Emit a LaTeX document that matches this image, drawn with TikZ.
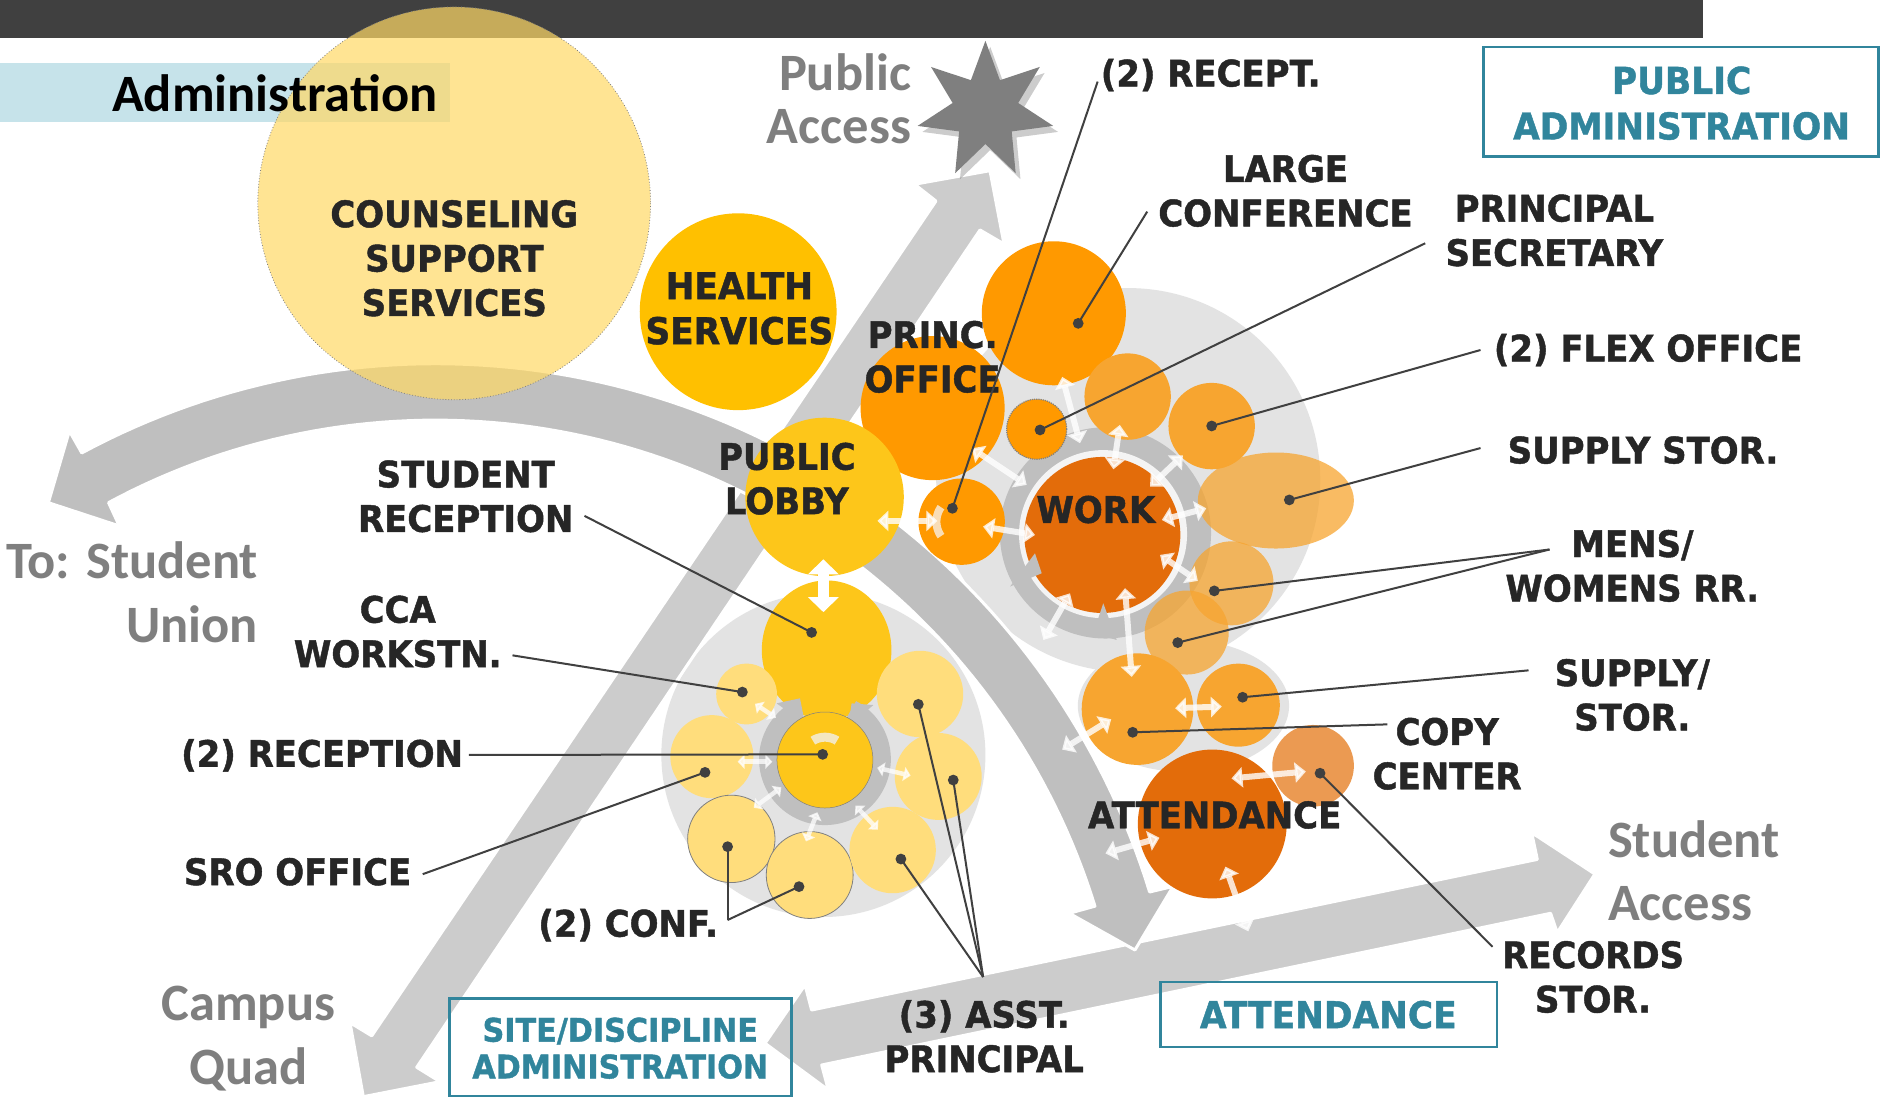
\documentclass[tikz,border=0pt]{standalone}
\usepackage{fontspec}
\newfontfamily\labfont{DejaVu Sans}[FakeStretch=0.93, BoldFeatures={FakeBold=1.2}]
\newfontfamily\calfont{Carlito}
\usetikzlibrary{arrows.meta}
\definecolor{barcol}{HTML}{404040}
\definecolor{band}{HTML}{C6E3EA}
\definecolor{halo}{HTML}{E3E3E3}
\definecolor{arrowlight}{HTML}{CCCCCC}
\definecolor{arrowdark}{HTML}{BFBFBF}
\definecolor{ringgrey}{HTML}{BFBFBF}
\definecolor{orangeA}{HTML}{FF9900}
\definecolor{orangeB}{HTML}{F7A530}
\definecolor{orangeD}{HTML}{E36C0A}
\definecolor{orangeE}{HTML}{EB9A52}
\definecolor{yellowA}{HTML}{FFC000}
\definecolor{yellowB}{HTML}{FDC61A}
\definecolor{yellowC}{HTML}{FFDD7C}
\definecolor{counsel}{HTML}{FFD966}
\definecolor{tealc}{HTML}{31859C}
\definecolor{greytext}{HTML}{7F7F7F}
\definecolor{labtext}{HTML}{262626}
\definecolor{leadc}{HTML}{404040}
\definecolor{palepeach}{HTML}{F9DDB6}
\definecolor{paleyellow}{HTML}{F4E7C0}
\tikzset{
  lbl/.style={font=\labfont\bfseries\fontsize{36.5}{44.4}\selectfont, text=labtext, inner sep=0pt, align=center},
  greylbl/.style={font=\calfont\bfseries\fontsize{52.5}{63.6}\selectfont, text=greytext, inner sep=0pt},
  tealtxt/.style={font=\labfont\bfseries\fontsize{37}{45.6}\selectfont, text=tealc, inner sep=0pt, align=center},
  tealbox/.style={draw=tealc, line width=2.4pt},
  leader/.style={draw=leadc, line width=2pt},
  dotc/.style={fill=leadc},
  wdbl/.style={draw=white, fill=white, opacity=0.8, line width=6pt, {Triangle[width=20pt,length=11pt]}-{Triangle[width=20pt,length=11pt]}},
  wsmall/.style={draw=white, fill=white, opacity=0.75, line width=4.5pt, {Triangle[width=14pt,length=7pt]}-{Triangle[width=14pt,length=7pt]}},
  bigarrow/.style={draw=white, line width=3pt, line join=round},
}
\begin{document}
\begin{tikzpicture}[x=1.2003pt,y=-1.2003pt]
\useasboundingbox (0,0) rectangle (1568,914);
\fill[white] (0,0) rectangle (1568,914);
% top bar and band
\fill[barcol] (0,0) rectangle (1418.5,31.4);
\fill[band] (0,52.8) rectangle (374.6,101.4);
% halos
\fill[halo] (940,400) circle[radius=160];
\fill[halo] (986,588) ellipse[x radius=88, y radius=55];
\fill[halo] (686,629) circle[radius=135];
% big grey arrows
\filldraw[fill=arrowlight, bigarrow] (824.8,142.2) -- (836.5,203.3) -- (816.5,191.6) -- (347.2,889.2) -- (366.6,901.2) -- (302.7,913.7) -- (291.6,852) -- (309.7,863) -- (779.8,167.5) -- (762,153.5) -- cycle;
\filldraw[fill=arrowlight, bigarrow] (1328.8,728.2) -- (1276.1,693.7) -- (1280.8,716) -- (676.2,841.5) -- (670.7,820.6) -- (637.4,869.2) -- (690.1,908.1) -- (684.6,887.3) -- (1291.9,760.9) -- (1297.4,777) -- cycle;
\filldraw[fill=arrowdark, bigarrow] plot[domain=118.3:17.0, samples=90] ({363+622*cos(\x)},{925-622*sin(\x)}) -- (977.4,738.5) -- (945.6,791.5) -- (890.9,760.9) -- plot[domain=17.2:118.3, samples=90] ({363+575*cos(\x)},{925-575*sin(\x)}) -- (99.4,438.2) -- (40.3,418.8) -- (57.8,359.1) -- cycle;
% work ring
\fill[ringgrey] (921,444) circle[radius=88];
\fill[white!60!halo] (919,445) circle[radius=70];
% orange cluster
\fill[orangeA] (878,261) circle[radius=60];
\fill[orangeA] (777,340) circle[radius=60];
\fill[orangeB] (939.5,330.4) circle[radius=36];
\fill[orangeB] (1009.5,355) circle[radius=36];
\filldraw[fill=orangeA, draw=gray, densely dotted, line width=1.2pt] (863.7,357.6) circle[radius=25];
\fill[orangeA] (801.2,434.6) circle[radius=36];
\fill[orangeB, opacity=0.75] (1063,417) ellipse[x radius=65, y radius=40];
\fill[orangeB, opacity=0.75] (1026,486) circle[radius=35];
\fill[orangeB, opacity=0.75] (988.7,527) circle[radius=35];
\fill[orangeB] (947.7,590.8) circle[radius=46.5];
\fill[orangeB] (1031.7,587.5) circle[radius=34.6];
\fill[orangeE] (1094,638) circle[radius=34];
\fill[orangeD] (1010,686.5) circle[radius=62];
\fill[orangeD] (918.4,445.7) circle[radius=65];
\fill[ringgrey] (841.5,488.7) -- (867.9,477.6) -- (862.3,461) -- cycle;
\fill[ringgrey] (910.9,527.6) -- (919.2,502.6) -- (930.4,533.2) -- cycle;
\draw[line width=8pt, palepeach] plot[domain=145:215, samples=30] ({801.2+21*cos(\x)},{434.6-21*sin(\x)});
% yellow cluster
\fill[yellowB] (688.7,541.6) ellipse[x radius=54, y radius=58];
\draw[ringgrey, line width=19pt] plot[domain=118:422, samples=90] ({687.3+47*cos(\x)},{632.5-47*sin(\x)});
\fill[ringgrey] (647,586) -- (666.5,581.8) -- (670.7,602.7) -- cycle;
\fill[ringgrey] (706.8,605.5) -- (709.5,586) -- (727.6,587.4) -- cycle;
\fill[yellowC] (622,578.2) circle[radius=25.3];
\fill[yellowC] (593.1,630.4) circle[radius=34.6];
\filldraw[fill=yellowC, draw=gray, line width=0.8pt] (609.3,698.9) circle[radius=36.4];
\filldraw[fill=yellowC, draw=gray, line width=0.8pt] (674.6,729) circle[radius=36.2];
\fill[yellowC] (743.7,708.2) circle[radius=36];
\fill[yellowC] (766.5,578.2) circle[radius=36];
\fill[yellowC] (781.7,646.9) circle[radius=36.2];
\filldraw[fill=yellowB, draw=gray, line width=0.5pt] (687.3,633.2) circle[radius=40];
\draw[line width=9pt, paleyellow] plot[domain=58:122, samples=30] ({687.3+19*cos(\x)},{633.2-19*sin(\x)});
\fill[yellowB] (687,414) circle[radius=66];
\fill[yellowA] (615,259.7) circle[radius=82];
% counseling
\filldraw[fill=counsel, fill opacity=0.7, draw=gray, dotted, line width=0.8pt] (378.4,169.4) circle[radius=163.6];
% star
\begin{scope}[shift={(4,5)}]
\fill[black, opacity=0.2] (821,34) -- (808.9,66.8) -- (775.7,55.8) -- (793.7,85.8) -- (764.5,104.9) -- (799.1,109.5) -- (795.8,144.3) -- (821,120) -- (846.2,144.3) -- (842.9,109.5) -- (877.5,104.9) -- (848.3,85.8) -- (866.3,55.8) -- (833.1,66.8) -- cycle;
\end{scope}
\fill[greytext] (821,34) -- (808.9,66.8) -- (775.7,55.8) -- (793.7,85.8) -- (764.5,104.9) -- (799.1,109.5) -- (795.8,144.3) -- (821,120) -- (846.2,144.3) -- (842.9,109.5) -- (877.5,104.9) -- (848.3,85.8) -- (866.3,55.8) -- (833.1,66.8) -- cycle;
% white double arrows
\coordinate (w1a) at (686,466); \coordinate (w1b) at (686,510);
\draw[draw=white, fill=white, line width=11pt, {Triangle[width=30pt,length=15pt]}-{Triangle[width=30pt,length=15pt]}] (w1a) -- (w1b);
\coordinate (w2a) at (731,434); \coordinate (w2b) at (781,434);
\coordinate (w3a) at (809.6,373.5); \coordinate (w3b) at (855.4,404);
\coordinate (w4a) at (885,314); \coordinate (w4b) at (899.8,369.3);
\coordinate (w5a) at (819,438.7); \coordinate (w5b) at (862.3,445.7);
\coordinate (w6a) at (933,354); \coordinate (w6b) at (927.6,391);
\coordinate (w7a) at (958.1,405.4); \coordinate (w7b) at (985.5,379.4);
\coordinate (w8a) at (968,433.2); \coordinate (w8b) at (1005,423.5);
\coordinate (w9a) at (966.5,462.3); \coordinate (w9b) at (998,484);
\coordinate (w10a) at (891.5,494.3); \coordinate (w10b) at (869.3,533.2);
\coordinate (w11a) at (937.3,490); \coordinate (w11b) at (942.9,564);
\coordinate (w12a) at (925.8,599.2); \coordinate (w12b) at (884.9,624.5);
\coordinate (w13a) at (979,590); \coordinate (w13b) at (1018,588.7);
\coordinate (w14a) at (1026,648.5); \coordinate (w14b) at (1088,642.8);
\coordinate (w15a) at (921,711); \coordinate (w15b) at (966,698);
\coordinate (w16a) at (1021,722); \coordinate (w16b) at (1040,776);
\foreach \w in {w2,w3,w4,w5,w6,w7,w8,w9,w10,w11,w12,w13,w14,w15,w16}{
  \draw[wdbl] (\w a) -- (\w b);
}
\coordinate (y1a) at (629,586.4); \coordinate (y1b) at (646.5,598);
\coordinate (y2a) at (614.5,634.6); \coordinate (y2b) at (643.5,634.6);
\coordinate (y3a) at (628,673); \coordinate (y3b) at (651,656);
\coordinate (y4a) at (671.5,701); \coordinate (y4b) at (681,676.7);
\coordinate (y5a) at (731.4,691.2); \coordinate (y5b) at (712.7,671.1);
\coordinate (y6a) at (758.7,646.2); \coordinate (y6b) at (730.8,639.7);
\foreach \w in {y1,y2,y3,y4,y5,y6}{
  \draw[wsmall] (\w a) -- (\w b);
}
% labels
\node[font=\calfont\bfseries\fontsize{52.5}{60}\selectfont, text=black, inner sep=0pt, anchor=east] (admin) at (364.6,78) {Administration};
\node[lbl] (counseltxt) at (378.5,215.2) {COUNSELING\\SUPPORT\\SERVICES};
\node[lbl, font=\labfont\bfseries\fontsize{37}{45}\selectfont] (healthtxt) at (616,257) {HEALTH\\SERVICES};
\node[greylbl, font=\calfont\bfseries\fontsize{52.5}{52.8}\selectfont, align=right, anchor=east] (pubacc) at (759.2,82) {Public\\Access};
\node[lbl, anchor=west] (recepttxt) at (917,62.5) {(2) RECEPT.};
\node[lbl] (largeconf) at (1071,159) {LARGE\\CONFERENCE};
\node[lbl] (secretary) at (1295,192) {PRINCIPAL\\SECRETARY};
\node[tealtxt] (pubadmin) at (1401,86) {PUBLIC\\ADMINISTRATION};
\draw[tealbox] (1236,39) rectangle (1565,130.5);
\node[lbl] (princtxt) at (777,297.3) {PRINC.\\OFFICE};
\node[lbl, anchor=west] (flextxt) at (1244.5,291.6) {(2) FLEX OFFICE};
\node[lbl, anchor=west] (supplytxt) at (1256,375) {SUPPLY STOR.};
\node[lbl] (lobbytxt) at (655.6,398.8) {PUBLIC\\LOBBY};
\node[lbl] (worktxt) at (913,424.5) {WORK};
\node[lbl] (studrec) at (388,413.5) {STUDENT\\RECEPTION};
\node[lbl] (menstxt) at (1360,471.5) {MENS/\\WOMENS RR.};
\node[greylbl, align=right, anchor=east] (union) at (215,493.4) {To: Student\\Union};
\node[lbl] (ccatxt) at (331.4,526.2) {CCA\\WORKSTN.};
\node[lbl] (supstortxt) at (1360,579) {SUPPLY/\\STOR.};
\node[lbl] (copytxt) at (1205.7,628) {COPY\\CENTER};
\node[lbl, anchor=west] (rectxt) at (150.8,629.3) {(2) RECEPTION};
\node[lbl] (atttxt) at (1012,679) {ATTENDANCE};
\node[lbl] (srotxt) at (248,726.3) {SRO OFFICE};
\node[greylbl, align=left, anchor=west] (studacc) at (1339.6,725.5) {Student\\Access};
\node[lbl, anchor=east] (conftxt) at (598.4,770.8) {(2) CONF.};
\node[lbl] (recordstxt) at (1327.3,814) {RECORDS\\STOR.};
\node[greylbl, align=center] (campus) at (207,865.5) {Campus\\Quad};
\node[tealtxt, font=\labfont\bfseries\fontsize{32.5}{36.7}\selectfont] (sitetxt) at (516.8,873.3) {SITE/DISCIPLINE\\ADMINISTRATION};
\draw[tealbox] (374.6,832) rectangle (659.3,912.9);
\node[lbl] (assttxt) at (820,863.4) {(3) ASST.\\PRINCIPAL};
\node[tealtxt] (attbox) at (1106.7,845.4) {ATTENDANCE};
\draw[tealbox] (966.8,818.3) rectangle (1247,872.3);
% leader lines
\coordinate (s1) at (914.5,68);     \coordinate (d1) at (793.5,423.5);
\coordinate (s2) at (955.8,176.3);  \coordinate (d2) at (898.3,269.4);
\coordinate (s3) at (1187.4,202.7); \coordinate (d3) at (866.5,358.2);
\coordinate (s4) at (1233.5,291.6); \coordinate (d4) at (1009.5,354.9);
\coordinate (s5) at (1233.5,373.3); \coordinate (d5) at (1074.2,416.5);
\coordinate (s6) at (1291,457.8);   \coordinate (d6) at (1011.7,492.3); \coordinate (d6b) at (981.2,535.4);
\coordinate (s7) at (1273.5,558.5); \coordinate (d7) at (1035.3,580.9);
\coordinate (s8) at (1155.9,603.5); \coordinate (d8) at (943.7,610.1);
\coordinate (s9) at (1243.5,788.8); \coordinate (d9) at (1099.8,644.2);
\coordinate (s10) at (487,429.8);   \coordinate (d10) at (676.2,526.9);
\coordinate (s11) at (427,546);     \coordinate (d11) at (618.5,576.6);
\coordinate (s12) at (390.6,629);   \coordinate (d12) at (685.4,628.5);
\coordinate (s13) at (352.2,728.3); \coordinate (d13) at (587.4,643.5);
\coordinate (s14) at (606.2,766.5); \coordinate (d14) at (606.2,705.4); \coordinate (d14b) at (665.7,738.7);
\coordinate (s15) at (819.1,814);   \coordinate (d15) at (750.6,715.7); \coordinate (d15b) at (794.2,649.9); \coordinate (d15c) at (765.1,586.8);
\foreach \i in {1,2,3,4,5,6,7,8,9,10,11,12,13,14,15}{
  \draw[leader] (s\i) -- (d\i);
  \fill[dotc] (d\i) circle[radius=4.5];
}
\draw[leader] (s6) -- (d6b); \fill[dotc] (d6b) circle[radius=4.5];
\draw[leader] (s14) -- (d14b); \fill[dotc] (d14b) circle[radius=4.5];
\draw[leader] (s15) -- (d15b); \fill[dotc] (d15b) circle[radius=4.5];
\draw[leader] (s15) -- (d15c); \fill[dotc] (d15c) circle[radius=4.5];
\end{tikzpicture}
\end{document}
